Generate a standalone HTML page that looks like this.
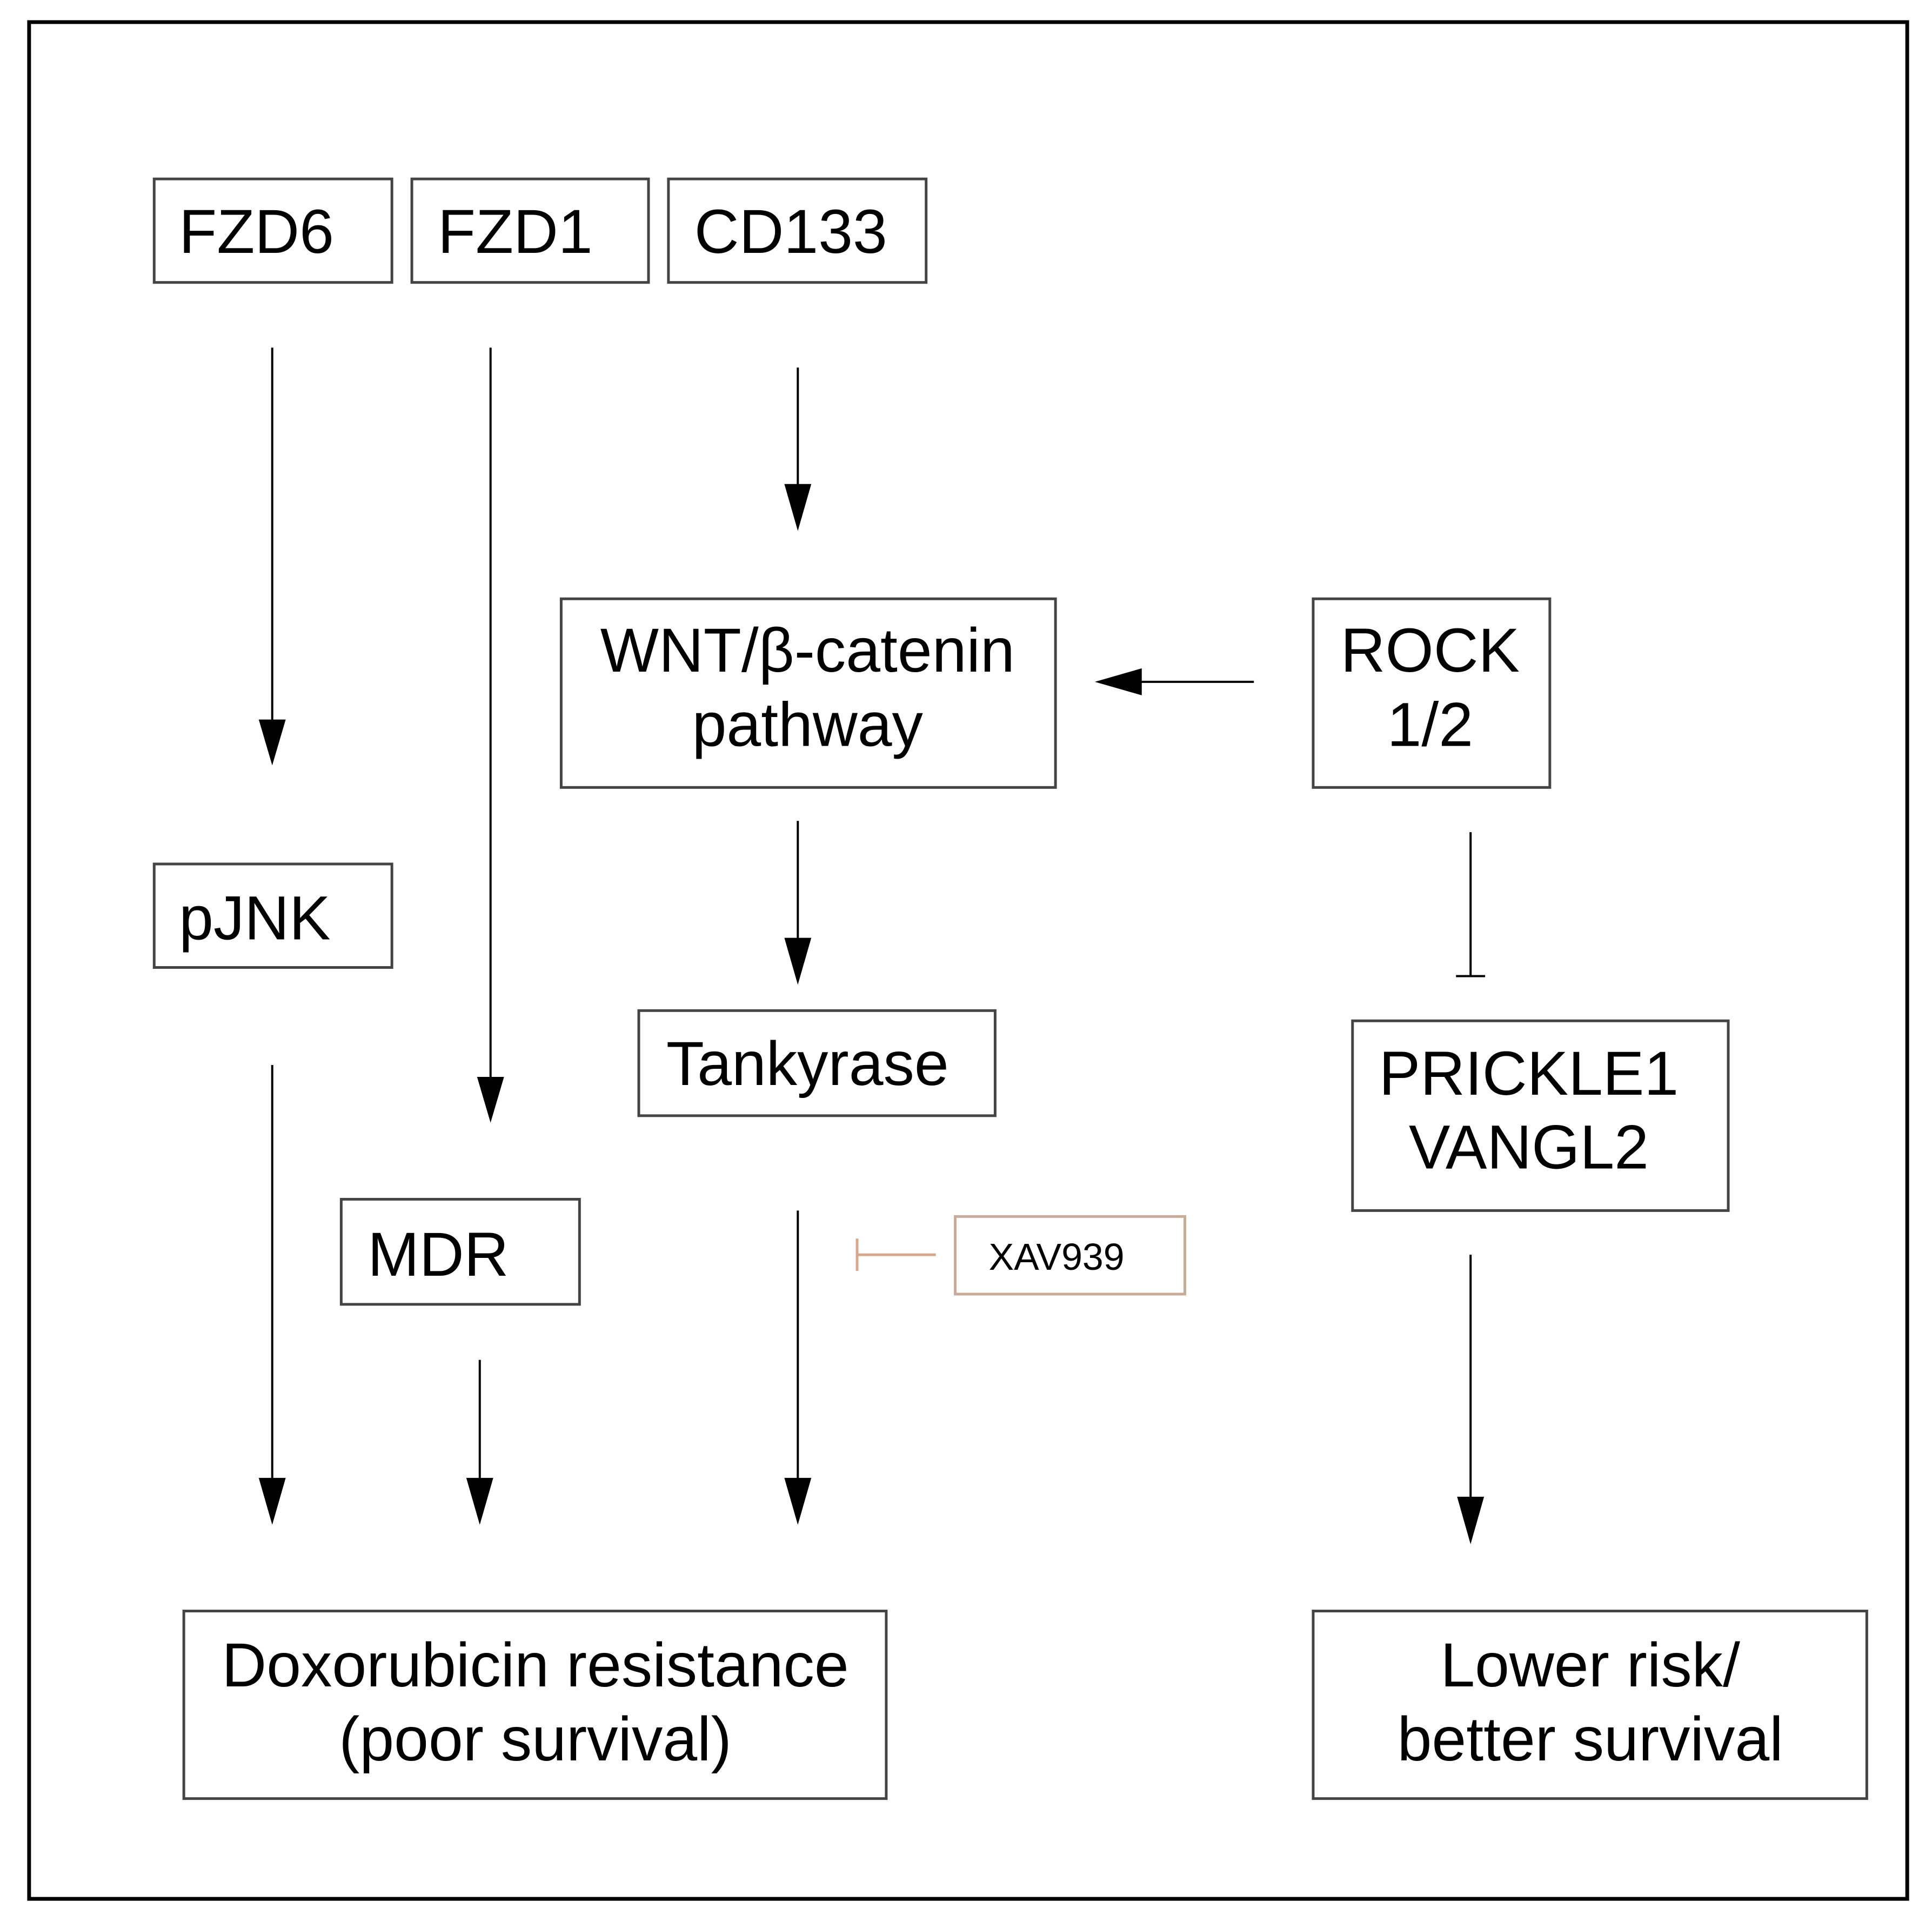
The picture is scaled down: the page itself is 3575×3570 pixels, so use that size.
<!DOCTYPE html>
<html><head><meta charset="utf-8"><style>html,body{margin:0;padding:0;background:#fff}svg{display:block}</style></head><body>
<svg width="3575" height="3570" viewBox="0 0 3575 3570" xmlns="http://www.w3.org/2000/svg" font-family="'Liberation Sans', Arial, sans-serif">
<rect width="3575" height="3570" fill="#fff"/>
<g transform="scale(0.9975)">
<rect x="54" y="41" width="3484" height="3482" fill="none" stroke="#000" stroke-width="7"/>
<g fill="#fff" stroke="#444" stroke-width="5">
<rect x="286" y="332" width="441" height="192"/>
<rect x="764" y="332" width="439" height="192"/>
<rect x="1240" y="332" width="478" height="192"/>
<rect x="1041" y="1111" width="917" height="350"/>
<rect x="2436" y="1111" width="439" height="350"/>
<rect x="286" y="1603" width="441" height="192"/>
<rect x="1185" y="1875" width="661" height="195"/>
<rect x="2509" y="1894" width="697" height="352"/>
<rect x="633" y="2225" width="442" height="195"/>
<rect x="341" y="2989" width="1303" height="348"/>
<rect x="2436" y="2989" width="1027" height="348"/>
</g>
<rect x="1772" y="2257" width="426" height="144" fill="#fff" stroke="#c8ab98" stroke-width="5"/>
<g stroke="#000" stroke-width="4">
<line x1="505" y1="645" x2="505" y2="1340"/>
<line x1="910" y1="645" x2="910" y2="2000"/>
<line x1="1480" y1="682" x2="1480" y2="900"/>
<line x1="1480" y1="1523" x2="1480" y2="1745"/>
<line x1="505" y1="1976" x2="505" y2="2745"/>
<line x1="890" y1="2523" x2="890" y2="2745"/>
<line x1="1480" y1="2246" x2="1480" y2="2745"/>
<line x1="2326" y1="1265" x2="2110" y2="1265"/>
<line x1="2728" y1="1544" x2="2728" y2="1811"/>
<line x1="2701" y1="1811" x2="2755" y2="1811"/>
<line x1="2728" y1="2328" x2="2728" y2="2780"/>
</g>
<g fill="#000">
<polygon points="480,1335 530,1335 505,1420"/>
<polygon points="885,1998 935,1998 910,2083"/>
<polygon points="1455,898 1505,898 1480,985"/>
<polygon points="1455,1740 1505,1740 1480,1827"/>
<polygon points="480,2742 530,2742 505,2829"/>
<polygon points="865,2742 915,2742 890,2829"/>
<polygon points="1455,2742 1505,2742 1480,2829"/>
<polygon points="2118,1240 2118,1290 2031,1265"/>
<polygon points="2703,2777 2753,2777 2728,2865"/>
</g>
<g stroke="#d4a88a" stroke-width="5">
<line x1="1736" y1="2328" x2="1590" y2="2328"/>
<line x1="1590" y1="2298" x2="1590" y2="2358"/>
</g>
<g font-size="115" fill="#000">
<text x="332" y="469">FZD6</text>
<text x="812" y="469">FZD1</text>
<text x="1288" y="469">CD133</text>
<text x="1498" y="1246" text-anchor="middle">WNT/β-catenin</text>
<text x="1498" y="1384" text-anchor="middle">pathway</text>
<text x="2653" y="1246" text-anchor="middle">ROCK</text>
<text x="2653" y="1384" text-anchor="middle">1/2</text>
<text x="332" y="1743">pJNK</text>
<text x="1498" y="2013" text-anchor="middle">Tankyrase</text>
<text x="2836" y="2031" text-anchor="middle">PRICKLE1</text>
<text x="2836" y="2168" text-anchor="middle">VANGL2</text>
<text x="682" y="2367">MDR</text>
<text x="993" y="3129" text-anchor="middle">Doxorubicin resistance</text>
<text x="993" y="3266" text-anchor="middle">(poor survival)</text>
<text x="2950" y="3129" text-anchor="middle">Lower risk/</text>
<text x="2950" y="3266" text-anchor="middle">better survival</text>
</g>
<text x="1960" y="2356" font-size="70" text-anchor="middle" fill="#000">XAV939</text>
</g>
</svg>
</body></html>
